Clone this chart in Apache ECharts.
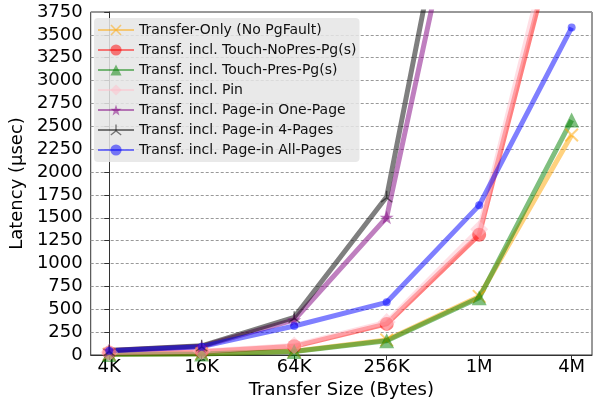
<!DOCTYPE html>
<html>
<head>
<meta charset="utf-8">
<script src="https://cdn.jsdelivr.net/npm/echarts@6/dist/echarts.min.js"></script>
<style>
  html, body { margin: 0; padding: 0; background: #fff; }
  #chart { width: 601px; height: 405px; }
</style>
</head>
<body>
<div id="chart"></div>
<script>
// Transfer sizes (one tick per size, evenly spaced on a log2 scale)
const sizes = ['4K', '16K', '64K', '256K', '1M', '4M'];

// Latency in microseconds for each transfer size
const transferOnly = [8, 15, 40, 165, 640, 2405];
const touchNoPres  = [25, 35, 95, 340, 1315, 5240];
const touchPres    = [5, 12, 38, 156, 625, 2568];
const pin          = [28, 40, 105, 360, 1374, 5440];
const pageInOne    = [50, 95, 383, 1505, 6190];
const pageInFour   = [50, 100, 412, 1730, 6870];
const pageInAll    = [47, 91, 317, 576, 1636, 3580];

const seriesNames = [
  'Transfer-Only (No PgFault)',
  'Transf. incl. Touch-NoPres-Pg(s)',
  'Transf. incl. Touch-Pres-Pg(s)',
  'Transf. incl. Pin',
  'Transf. incl. Page-in One-Page',
  'Transf. incl. Page-in 4-Pages',
  'Transf. incl. Page-in All-Pages'
];

const FONT = 'DejaVu Sans';

// marker shapes
const crossPath = 'path://M1,0L5,4L9,0L10,1L6,5L10,9L9,10L5,6L1,10L0,9L4,5L0,1Z';
const starPath = 'path://M50,0L61.8,35.1L98.1,34.5L68.9,56.2L79.4,90.5L50,70L20.6,90.5L31.1,56.2L1.9,34.5L38.2,35.1Z';
const triPath = 'path://M4.4,0L5.6,0L5.6,5.3L10,8.6L9.3,9.6L5,6.4L0.7,9.6L0,8.6L4.4,5.3Z';

function mk(name, values, color, symbol, size) {
  return {
    name: name,
    type: 'line',
    data: values.map((v, i) => [i, v]),
    symbol: symbol,
    symbolSize: size,
    showSymbol: true,
    clip: true,
    lineStyle: { color: color, width: 5, opacity: 0.5 },
    itemStyle: { color: color, opacity: 0.5 },
    emphasis: { disabled: true },
    animation: false
  };
}

const series = [
  mk(seriesNames[0], transferOnly, '#FFA500', crossPath, 14),
  mk(seriesNames[1], touchNoPres, '#FF0000', 'circle', 14),
  mk(seriesNames[2], touchPres, '#008000', 'triangle', 15),
  mk(seriesNames[3], pin, '#FFC0CB', 'diamond', 18),
  mk(seriesNames[4], pageInOne, '#800080', starPath, 14),
  mk(seriesNames[5], pageInFour, '#000000', triPath, 12),
  mk(seriesNames[6], pageInAll, '#0000FF', 'circle', 8)
];

const chart = echarts.init(document.getElementById('chart'), null, { renderer: 'canvas' });
chart.setOption({
  animation: false,
  textStyle: { fontFamily: FONT },
  grid: {
    left: 88, right: 9, top: 12, bottom: 50,
    show: true, borderColor: '#333', borderWidth: 1, backgroundColor: 'transparent'
  },
  legend: {
    orient: 'vertical',
    left: 94, top: 18,
    padding: [5, 3, 5, 3],
    itemGap: 6,
    itemWidth: 36,
    itemHeight: 14,
    backgroundColor: 'rgba(229,229,229,0.85)',
    borderRadius: 4,
    textStyle: { fontFamily: FONT, fontSize: 14, color: '#111' },
    data: seriesNames
  },
  xAxis: {
    type: 'value',
    min: -0.2,
    max: 5.22,
    name: 'Transfer Size (Bytes)',
    nameLocation: 'middle',
    nameGap: 25,
    nameTextStyle: { fontFamily: FONT, fontSize: 18, color: '#000' },
    axisLine: { show: true, onZero: false, lineStyle: { color: '#333' } },
    axisTick: { show: true, length: 5, customValues: [0, 1, 2, 3, 4, 5], lineStyle: { color: '#333' } },
    axisLabel: {
      customValues: [0, 1, 2, 3, 4, 5],
      formatter: v => sizes[Math.round(v)],
      fontFamily: FONT, fontSize: 18, color: '#000', margin: 3
    },
    splitLine: { show: false }
  },
  yAxis: {
    type: 'value',
    min: 0,
    max: 3750,
    interval: 250,
    name: 'Latency (\u03bcsec)',
    nameLocation: 'middle',
    nameGap: 44,
    nameTextStyle: { fontFamily: FONT, fontSize: 18, color: '#000' },
    axisLine: { show: true, lineStyle: { color: '#333' } },
    axisTick: { show: true, length: 5, lineStyle: { color: '#333' } },
    axisLabel: { fontFamily: FONT, fontSize: 18, color: '#000', margin: 8, formatter: v => String(v) },
    splitLine: { show: true, lineStyle: { color: '#999', type: [3, 2], width: 1 } }
  },
  series: series
});
</script>
</body>
</html>
